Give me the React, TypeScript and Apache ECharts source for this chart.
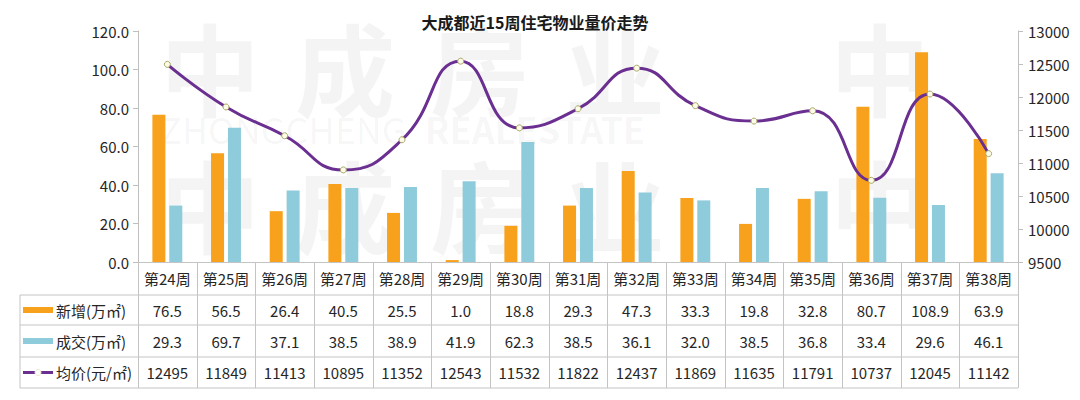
import React, { useEffect, useRef } from "react";
import * as echarts from "echarts";

const title = "大成都近15周住宅物业量价走势";
const categories = ["第24周", "第25周", "第26周", "第27周", "第28周", "第29周", "第30周", "第31周", "第32周", "第33周", "第34周", "第35周", "第36周", "第37周", "第38周"];
const newSupply = [76.5, 56.5, 26.4, 40.5, 25.5, 1.0, 18.8, 29.3, 47.3, 33.3, 19.8, 32.8, 80.7, 108.9, 63.9];
const deals = [29.3, 69.7, 37.1, 38.5, 38.9, 41.9, 62.3, 38.5, 36.1, 32.0, 38.5, 36.8, 33.4, 29.6, 46.1];
const avgPrice = [12495, 11849, 11413, 10895, 11352, 12543, 11532, 11822, 12437, 11869, 11635, 11791, 10737, 12045, 11142];
const seriesNames = ["新增(万㎡)", "成交(万㎡)", "均价(元/㎡)"];

const FONT = "'Noto Sans CJK SC', 'Microsoft YaHei', sans-serif";
const ORANGE = "#f8a11c";
const BLUE = "#8ecbdb";
const PURPLE = "#6a2f90";
const GRID_LEFT = 138;
const GRID_RIGHT_X = 1018;
const GRID_TOP = 31;
const AXIS_Y = 262;
const ROWS = [262, 295, 325, 357, 388];
const TABLE_LEFT = 20;
const LINE_COLOR = "#c4c4c4";

export default function App() {
  const ref = useRef<HTMLDivElement>(null);
  useEffect(() => {
    if (!ref.current) return;
    const chart = echarts.init(ref.current, null, { renderer: "svg" });
    const colW = (GRID_RIGHT_X - GRID_LEFT) / categories.length;
    const graphics: any[] = [];

    // watermark
    const wm = "rgba(0,0,0,0.045)";
    const wmChars = ["中", "成", "房", "业"];
    [15, 152].forEach((y) => {
      wmChars.forEach((c, i) => {
        graphics.push({ type: "text", z: -10, silent: true, x: 160 + i * 135, y, style: { text: c, font: `bold 100px ${FONT}`, fill: wm } });
      });
      graphics.push({ type: "text", z: -10, silent: true, x: 830, y, style: { text: "中", font: `bold 100px ${FONT}`, fill: wm } });
    });
    graphics.push({ type: "text", z: -10, silent: true, x: 160, y: 110, style: { text: "ZHONGCHENG", font: `36px ${FONT}`, fill: wm } });
    graphics.push({ type: "text", z: -10, silent: true, x: 425, y: 110, style: { text: "REALESTATE", font: `bold 36px ${FONT}`, fill: wm } });

    // table grid lines
    for (let r = 1; r < ROWS.length; r++) {
      graphics.push({ type: "line", shape: { x1: TABLE_LEFT, y1: ROWS[r], x2: GRID_RIGHT_X, y2: ROWS[r] }, style: { stroke: LINE_COLOR, lineWidth: 1 } });
    }
    graphics.push({ type: "line", shape: { x1: TABLE_LEFT, y1: ROWS[1], x2: TABLE_LEFT, y2: ROWS[4] }, style: { stroke: LINE_COLOR, lineWidth: 1 } });
    for (let i = 0; i <= categories.length; i++) {
      const x = Math.round(GRID_LEFT + i * colW) + 0.5;
      graphics.push({ type: "line", shape: { x1: x, y1: ROWS[0], x2: x, y2: ROWS[4] }, style: { stroke: LINE_COLOR, lineWidth: 1 } });
    }

    // table values
    const rowsData = [newSupply.map((v) => v.toFixed(1)), deals.map((v) => v.toFixed(1)), avgPrice.map((v) => String(v))];
    rowsData.forEach((row, r) => {
      const cy = (ROWS[r + 1] + ROWS[r + 2]) / 2;
      row.forEach((t, i) => {
        graphics.push({
          type: "text",
          x: GRID_LEFT + (i + 0.5) * colW,
          y: cy,
          style: { text: t, font: `15px ${FONT}`, fill: "#262626", align: "center", verticalAlign: "middle" },
        });
      });
      // legend keys
      if (r === 0 || r === 1) {
        graphics.push({ type: "rect", shape: { x: 23, y: cy - 3, width: 30, height: 6 }, style: { fill: r === 0 ? ORANGE : BLUE } });
      } else {
        graphics.push({ type: "line", shape: { x1: 23, y1: cy, x2: 53, y2: cy }, style: { stroke: PURPLE, lineWidth: 3 } });
        graphics.push({ type: "circle", shape: { cx: 38, cy, r: 3 }, style: { fill: "#ffffff", stroke: "#e8e8d0", lineWidth: 1 } });
      }
      graphics.push({
        type: "text",
        x: 56,
        y: cy,
        style: { text: seriesNames[r], font: `15px ${FONT}`, fill: "#262626", align: "left", verticalAlign: "middle" },
      });
    });

    chart.setOption({
      animation: false,
      backgroundColor: "#ffffff",
      textStyle: { fontFamily: FONT },
      title: {
        text: title,
        left: 530,
        top: 9,
        textAlign: "center",
        textStyle: { fontSize: 16, fontWeight: "bold", color: "#1a1a1a", fontFamily: FONT },
      },
      grid: { left: GRID_LEFT, right: 1080 - GRID_RIGHT_X, top: GRID_TOP, bottom: 400 - AXIS_Y, containLabel: false },
      xAxis: {
        type: "category",
        data: categories,
        boundaryGap: true,
        axisLine: { lineStyle: { color: LINE_COLOR } },
        axisTick: { show: false },
        axisLabel: { interval: 0, color: "#262626", fontSize: 15, margin: 9, fontFamily: FONT },
      },
      yAxis: [
        {
          type: "value",
          min: 0,
          max: 120,
          interval: 20,
          axisLine: { show: true, lineStyle: { color: "#bfbfbf" } },
          axisTick: { show: true, length: 5, lineStyle: { color: "#bfbfbf" } },
          splitLine: { show: false },
          axisLabel: { formatter: (v: number) => v.toFixed(1), color: "#262626", fontSize: 15, margin: 9, fontFamily: FONT },
        },
        {
          type: "value",
          min: 9500,
          max: 13000,
          interval: 500,
          position: "right",
          axisLine: { show: true, lineStyle: { color: "#bfbfbf" } },
          axisTick: { show: true, length: 5, lineStyle: { color: "#bfbfbf" } },
          splitLine: { show: false },
          axisLabel: { formatter: (v: number) => String(v), color: "#262626", fontSize: 15, margin: 10, fontFamily: FONT },
        },
      ],
      series: [
        {
          name: seriesNames[0],
          type: "bar",
          data: newSupply,
          barWidth: 13,
          barGap: "30%",
          itemStyle: { color: ORANGE },
        },
        {
          name: seriesNames[1],
          type: "bar",
          data: deals,
          barWidth: 13,
          barGap: "30%",
          itemStyle: { color: BLUE },
        },
        {
          name: seriesNames[2],
          type: "line",
          yAxisIndex: 1,
          data: avgPrice,
          smooth: 0.5,
          symbol: "circle",
          symbolSize: 6,
          lineStyle: { color: PURPLE, width: 3 },
          itemStyle: { color: "#fbfbe6", borderColor: "#a9a96a", borderWidth: 1 },
          z: 5,
        },
      ],
      graphic: graphics,
    });
    return () => chart.dispose();
  }, []);
  return <div ref={ref} style={{ position: "absolute", left: 0, top: 0, width: 1080, height: 400 }} />;
}
